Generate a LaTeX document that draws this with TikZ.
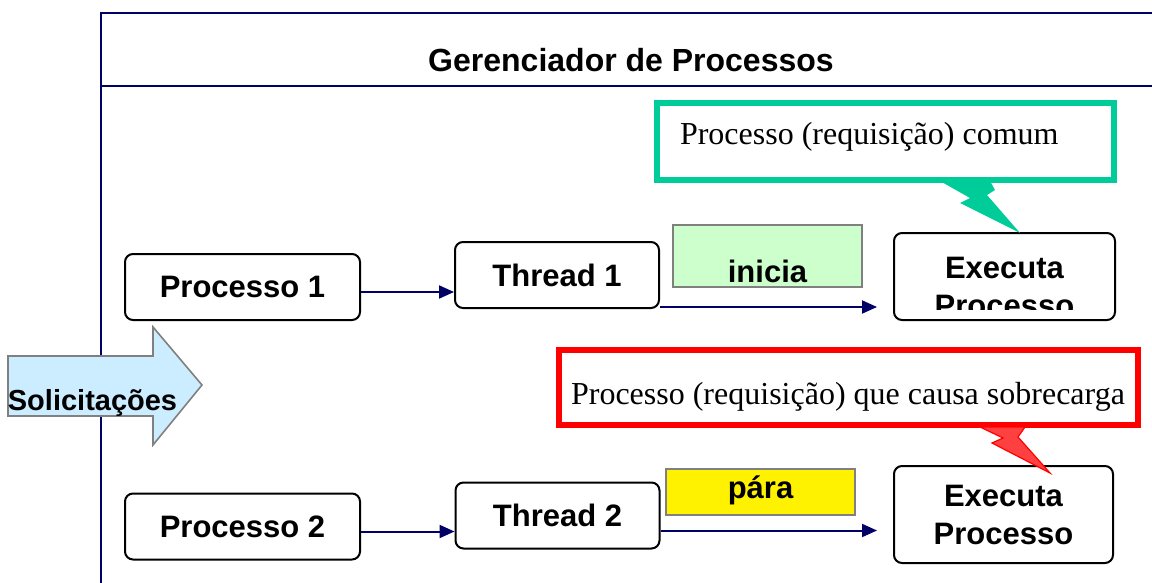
\documentclass[tikz,border=0pt]{standalone}
\usepackage{fontspec}
\setmainfont{Liberation Serif}
\setsansfont{Liberation Sans}
\usepackage{tikz}
\usetikzlibrary{arrows.meta}
\definecolor{marinho}{HTML}{000066}
\definecolor{verdeB}{HTML}{00CC99}
\definecolor{verdeC}{HTML}{CCFFCC}
\definecolor{azulC}{HTML}{CCECFF}
\definecolor{vermelhoC}{HTML}{FF4040}
\tikzset{
  Caixa/.style={draw,line width=1pt,rounded corners=4pt,fill=white,
    font=\sffamily\bfseries\fontsize{15.5}{19}\selectfont}, % Processos, Threads
  Seta/.style={marinho,line width=1pt,->}, % Setas entre as caixas
  Etiqueta/.style={draw=gray,line width=0.8pt,inner ysep=0pt,
    font=\sffamily\bfseries\fontsize{15.5}{19}\selectfont}, % inicia / pára
  Balao/.style={line width=3pt,fill=white,inner ysep=0pt,
    font=\rmfamily\fontsize{16}{19}\selectfont} % Comentarios
}

\begin{document}
\begin{tikzpicture}[x=0.5pt,y=-0.5pt,
>={Triangle[length=7.5pt,width=6.5pt]} % Pontas de seta
]
\useasboundingbox (0,0) rectangle (1152,583);

%Moldura
\draw[marinho,line width=1.2pt] (101,13) rectangle (1180,620);
\draw[marinho,line width=1.2pt] (101,86) -- (1180,86);
\node[font=\sffamily\bfseries\fontsize{16}{19}\selectfont] (titulo) at (631,60) {Gerenciador de Processos};

%Solicitacoes
\draw[fill=azulC,draw=gray,line width=0.8pt] (8,356) -- (153,356) -- (153,327) -- (202,385)
  -- (153,445) -- (153,416) -- (8,416) -- cycle;
\node[anchor=base,font=\sffamily\bfseries\fontsize{14.5}{17}\selectfont] (solic) at (92.5,410) {Solicitações};

%Caixas
\node[Caixa,minimum width=117.5pt,minimum height=33pt] (proc1) at (242.5,287) {Processo 1};
\node[Caixa,minimum width=102pt,minimum height=33pt] (thr1) at (557,275) {Thread 1};
\node[Etiqueta,fill=verdeC,minimum width=94.5pt,text height=28.5pt,text depth=2.5pt] (inicia) at (767.5,256) {inicia};
\node[Caixa,minimum width=110.5pt,minimum height=43.5pt] (exec1) at (1004.5,276.5) {};
\begin{scope}
\clip (exec1.north west) rectangle ([yshift=6pt]exec1.south east);
\node[Caixa,draw=none,fill=none,align=center] (exec1txt) at (1004.5,287) {Executa\\Processo};
\end{scope}

\node[Caixa,minimum width=117.5pt,minimum height=33pt] (proc2) at (242.5,526.5) {Processo 2};
\node[Caixa,minimum width=102pt,minimum height=33pt] (thr2) at (557.5,515.5) {Thread 2};
\node[Etiqueta,fill=yellow,minimum width=94.5pt,text height=14.5pt,text depth=8.5pt] (para) at (760.5,492) {pára};
\node[Caixa,align=center,minimum width=109.5pt,minimum height=48.5pt] (exec2) at (1003.5,514.5) {Executa\\Processo};

%Setas
\draw[Seta] ([yshift=-2.5pt]proc1.east) -- ([yshift=-2.5pt]proc1.east -| thr1.west);
\draw[Seta,shorten >=8pt] ([yshift=1pt]thr1.south east) -- ([yshift=1pt]thr1.south east -| exec1.west);
\draw[Seta] ([yshift=-2.5pt]proc2.east) -- ([yshift=-2.5pt]proc2.east -| thr2.west);
\draw[Seta,shorten >=8pt] ([yshift=-7.5pt]thr2.east) -- ([yshift=-7.5pt]thr2.east -| exec2.west);

%Baloes
\node[Balao,draw=verdeB,text width=205.5pt,align=flush left,inner xsep=11.5pt,
  text height=21pt,text depth=17.5pt] (comum) at (885.5,141.5) {Processo (requisição) comum};
\fill[verdeB] (940,181) -- (970,198) -- (960,203) -- (1020,233) -- (987,195) -- (995,190) -- (990,181) -- cycle;

\node[Balao,draw=red,minimum width=289.5pt,text height=27pt,text depth=10.5pt] (sobrecarga) at (848,387.5)
  {Processo (requisição) que causa sobrecarga};
\filldraw[fill=vermelhoC,draw=red,line width=0.6pt] (980,427) -- (1003,438) -- (992,443) -- (1050,473)
  -- (1018,437) -- (1025,427) -- cycle;

\end{tikzpicture}
\end{document}
